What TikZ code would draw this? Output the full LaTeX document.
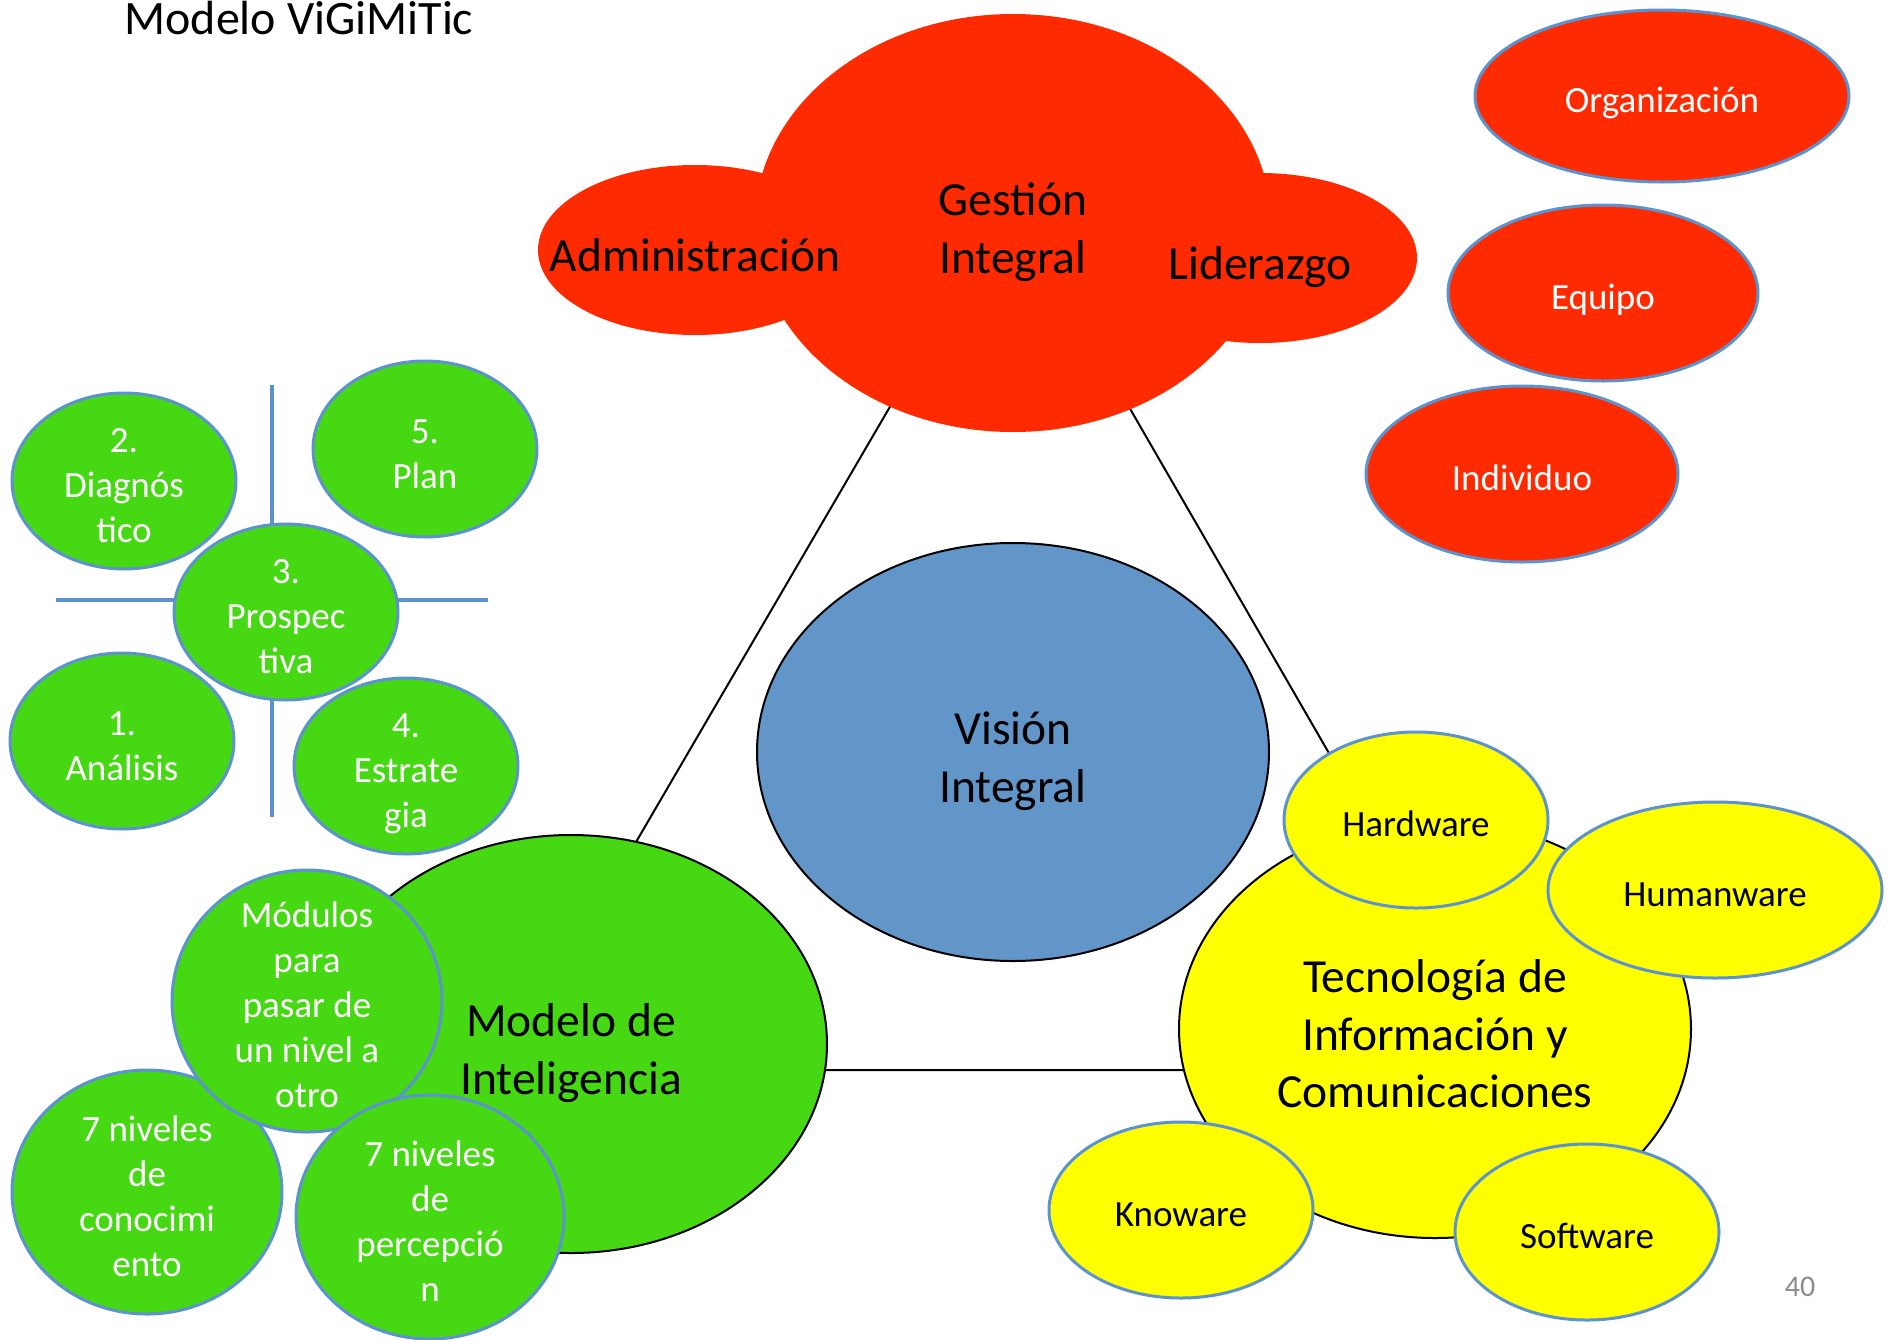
\documentclass[tikz,border=0pt]{standalone}
\usepackage{fontspec}
\setmainfont{Carlito}
\usepackage{xcolor}
\usepackage{tikz}
\usetikzlibrary{shapes.geometric}

\definecolor{rojo}{HTML}{FF2A00}
\definecolor{verde}{HTML}{45D813}
\definecolor{amarillo}{HTML}{FFFF00}
\definecolor{azulvision}{HTML}{6396C8}
\definecolor{borde}{HTML}{5C93CF}

\begin{document}
\begin{tikzpicture}[x=1pt,y=-1pt,
  % negative inner sep keeps the text from growing the ellipse,
  % fixed text height/depth give every text block the same top and bottom
  elip/.style={ellipse,inner sep=-150pt,align=center},
  letragrande/.style={font=\fontsize{47.5}{57.5}\selectfont,text height=57pt,text depth=14.25pt},
  letrachica/.style={font=\fontsize{37}{45}\selectfont,text height=44.4pt,text depth=11.1pt},
  grande/.style={elip,letragrande,draw=black,line width=2pt,minimum width=512pt,minimum height=418pt},
  nube/.style={elip,letragrande,fill=rojo,minimum width=314pt,minimum height=170pt},
  nivel/.style={elip,letrachica,fill=rojo,draw=borde,line width=3pt,text=white,minimum height=176pt},
  paso/.style={elip,letrachica,fill=verde,draw=borde,line width=3pt,text=white,minimum width=224pt,
    minimum height=176pt},
  modulo/.style={elip,letrachica,fill=verde,draw=borde,line width=3pt,text=white,minimum width=270pt},
  ware/.style={elip,letrachica,fill=amarillo,draw=borde,line width=3pt,minimum width=264pt,
    minimum height=176pt},
  cruz/.style={draw=borde,line width=4pt}]

\useasboundingbox (0,0) rectangle (1893,1339);

% triangle behind the three big circles
\coordinate (apex) at (1010,201);
\coordinate (baseL) at (503,1070);
\coordinate (baseR) at (1512,1070);
\draw[line width=2pt] (apex) -- (baseL) -- (baseR) -- cycle;

\node[anchor=base west,font=\fontsize{48}{57}\selectfont] (titulo) at (121,34) {Modelo ViGiMiTic};

% Gestion Integral
\node[nube,minimum width=516pt,minimum height=418pt,text height=114.5pt] (gestion) at (1013,223) {Gestión\\Integral};
\node[nube] (admin) at (695,250) {Administración};
\node[nube] (lider) at (1260,258) {Liderazgo};

\node[nivel,minimum width=374pt,minimum height=172pt] (org) at (1662,96) {Organización};
\node[nivel,minimum width=310pt] (equipo) at (1603,293) {Equipo};
\node[nivel,minimum width=312pt] (indiv) at (1522,474) {Individuo};

% the five steps
\coordinate (cruzN) at (272,385);
\coordinate (cruzS) at (272,817);
\coordinate (cruzW) at (56,600);
\coordinate (cruzE) at (488,600);
\draw[cruz] (cruzN) -- (cruzS);
\draw[cruz] (cruzW) -- (cruzE);

\node[paso,text height=134.4pt] (diag) at (124,481) {2.\\Diagnós\\tico};
\node[paso,text height=89.4pt] (anal) at (122,741) {1.\\Análisis};
\node[paso,text height=89.4pt] (plan) at (425,449) {5.\\Plan};
\node[paso,text height=134.4pt] (pros) at (286,612) {3.\\Prospec\\tiva};
\node[paso,text height=134.4pt] (estr) at (406,766) {4.\\Estrate\\gia};

% Modelo de Inteligencia
\node[grande,fill=verde,text height=114.5pt] (modelo) at (571,1044) {Modelo de\\Inteligencia};
\node[modulo,minimum height=244pt,text height=179.4pt] (conoc) at (147,1192) {7 niveles\\de\\conocimi\\ento};
\node[modulo,minimum height=262pt,text height=224.4pt] (modulos) at (307,1001) {Módulos\\para\\pasar de\\un nivel a\\otro};
\node[modulo,minimum width=268pt,minimum height=244pt,text height=179.4pt] (percep) at (430,1217) {7 niveles\\de\\percepció\\n};

\node[grande,fill=azulvision,text height=114.5pt] (vision) at (1013,752) {Visión\\Integral};

% Tecnologia
\node[grande,fill=amarillo,text height=172pt] (tic) at (1435,1029) {Tecnología de\\Información y\\Comunicaciones};
\node[ware] (hard) at (1416,820) {Hardware};
\node[ware,minimum width=334pt] (human) at (1715,890) {Humanware};
\node[ware] (know) at (1181,1210) {Knoware};
\node[ware] (soft) at (1587,1232) {Software};

\node[text=black!45,font=\fontsize{30}{36}\selectfont] (pagina) at (1800,1287) {40};

\end{tikzpicture}
\end{document}
